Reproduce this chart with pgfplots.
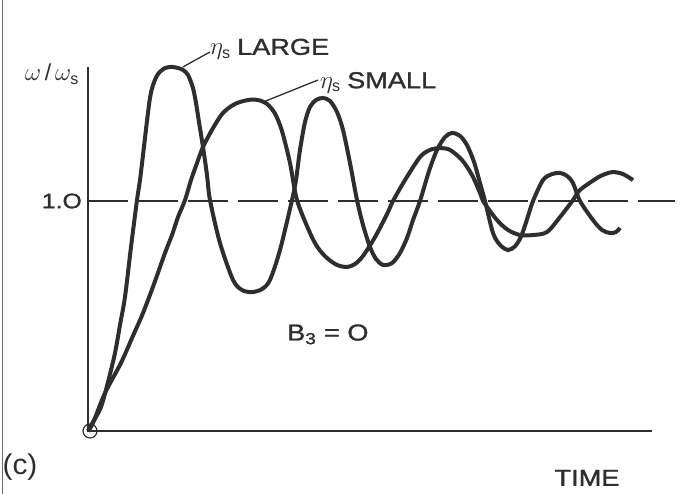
\documentclass[border=0pt]{standalone}
\usepackage{pgfplots}
\pgfplotsset{compat=1.18}
\usepackage{pgfplotstable}
\usepackage{fontspec}
\setmainfont{Liberation Sans}
\newfontfamily\letfont[FakeBold=1.2]{Liberation Sans}
\usepackage{graphicx}
\newcommand{\lett}[1]{\scalebox{1.18}[1]{#1}}
\definecolor{ink}{gray}{0.18}
% values: x = time (arbitrary units), y = omega/omega_s
\pgfplotstableread{
t y
0 0
0.05 0.039
0.13 0.104
0.20 0.213
0.27 0.339
0.32 0.461
0.37 0.583
0.43 0.800
0.49 1.004
0.52 1.091
0.55 1.200
0.59 1.348
0.62 1.448
0.65 1.504
0.70 1.552
0.77 1.578
0.84 1.583
0.90 1.578
0.95 1.570
1.00 1.548
1.05 1.491
1.08 1.426
1.11 1.343
1.15 1.235
1.19 1.113
1.22 1.004
1.32 0.817
1.45 0.657
1.54 0.613
1.64 0.604
1.74 0.617
1.82 0.657
1.92 0.787
2.04 1.004
2.08 1.091
2.12 1.222
2.17 1.343
2.22 1.409
2.28 1.439
2.35 1.448
2.42 1.435
2.49 1.387
2.55 1.309
2.62 1.165
2.69 1.004
2.75 0.896
2.82 0.800
2.88 0.748
2.95 0.722
3.04 0.730
3.12 0.774
3.19 0.839
3.25 0.917
3.32 1.000
3.41 1.130
3.49 1.222
3.57 1.278
3.64 1.296
3.72 1.283
3.79 1.243
3.86 1.170
3.92 1.078
3.97 1.000
4.05 0.861
4.12 0.809
4.20 0.787
4.27 0.803
4.33 0.845
4.39 0.920
4.45 1.000
4.55 1.091
4.64 1.117
4.72 1.122
4.79 1.109
4.85 1.078
4.92 1.000
5.05 0.917
5.14 0.874
5.22 0.861
5.28 0.865
5.32 0.883
}\largetab
\pgfplotstableread{
t y
0 0
0.05 0.035
0.17 0.165
0.33 0.296
0.44 0.404
0.55 0.513
0.66 0.639
0.77 0.774
0.84 0.852
0.90 0.930
0.97 1.004
1.03 1.091
1.09 1.165
1.15 1.235
1.25 1.317
1.35 1.383
1.47 1.422
1.60 1.439
1.70 1.439
1.79 1.422
1.87 1.380
1.94 1.304
2.02 1.165
2.09 1.004
2.22 0.861
2.30 0.796
2.39 0.752
2.49 0.722
2.59 0.713
2.67 0.726
2.75 0.761
2.87 0.843
2.99 0.943
3.05 1.000
3.17 1.091
3.32 1.191
3.42 1.222
3.52 1.230
3.62 1.222
3.74 1.178
3.84 1.113
3.92 1.035
3.95 1.000
4.09 0.917
4.20 0.874
4.32 0.852
4.45 0.852
4.59 0.865
4.72 0.930
4.85 1.004
4.92 1.048
5.09 1.100
5.17 1.117
5.25 1.126
5.35 1.117
5.45 1.091
}\smalltab
\begin{document}
\begin{tikzpicture}
\begin{axis}[
  scale only axis, width=686pt, height=494pt,
  xmin=-0.88, xmax=5.98, ymin=-0.274, ymax=1.874,
  hide axis, clip=false,
]
% frame of the scan
\addplot[ink!70, line width=1pt] coordinates {(-0.86,-0.274)(-0.86,1.874)};
% axes
\addplot[ink, line width=1.6pt] coordinates {(0,1.583)(0,0)(5.64,0)};
% reference line at 1.0
\addplot[ink, line width=1.8pt, dash pattern=on 40pt off 10pt] coordinates {(0,1)(5.87,1)};
% origin circle
\addplot[ink, only marks, mark=o, mark size=7pt, mark options={line width=1.2pt}] coordinates {(0.02,0)};
% curves
\addplot[ink, line width=4pt, smooth, tension=0.5] table[x=t,y=y] {\largetab};
\addplot[ink, line width=4pt, smooth, tension=0.5] table[x=t,y=y] {\smalltab};
% leaders
\draw[ink, line width=1.3pt] (axis cs:0.95,1.583) -- (axis cs:1.22,1.648);
\draw[ink, line width=1.3pt] (axis cs:1.75,1.43) -- (axis cs:2.30,1.526);
% labels
\node[text=ink, anchor=west, inner sep=0pt] at (axis cs:1.22,1.66)
  {\letfont\fontsize{23}{27}\selectfont$\eta_{\mathrm{s}}$ \lett{LARGE}};
\node[text=ink, anchor=west, inner sep=0pt] at (axis cs:2.32,1.515)
  {\letfont\fontsize{23}{27}\selectfont$\eta_{\mathrm{s}}$ \lett{SMALL}};
\node[text=ink, anchor=center, inner sep=0pt] at (axis cs:-0.36,1.55)
  {\fontsize{23}{27}\selectfont$\omega$\,/\,$\omega_{\mathrm{s}}$};
\node[text=ink, anchor=east, inner sep=0pt] at (axis cs:-0.06,1.0)
  {\letfont\fontsize{21}{25}\selectfont\lett{1.O}};
\node[text=ink, anchor=west, inner sep=0pt] at (axis cs:1.99,0.42)
  {\letfont\fontsize{23}{27}\selectfont\lett{B\textsubscript{3} = O}};
\node[text=ink, anchor=center, inner sep=0pt] at (axis cs:4.99,-0.204)
  {\letfont\fontsize{23}{27}\selectfont\lett{TIME}};
\node[text=ink, anchor=center, inner sep=0pt] at (axis cs:-0.68,-0.157)
  {\fontsize{26}{30}\selectfont\scalebox{1.15}[1.1]{(c)}};
\end{axis}
\pgfresetboundingbox
\path (current axis.south west) rectangle (current axis.north east);
\end{tikzpicture}
\end{document}
